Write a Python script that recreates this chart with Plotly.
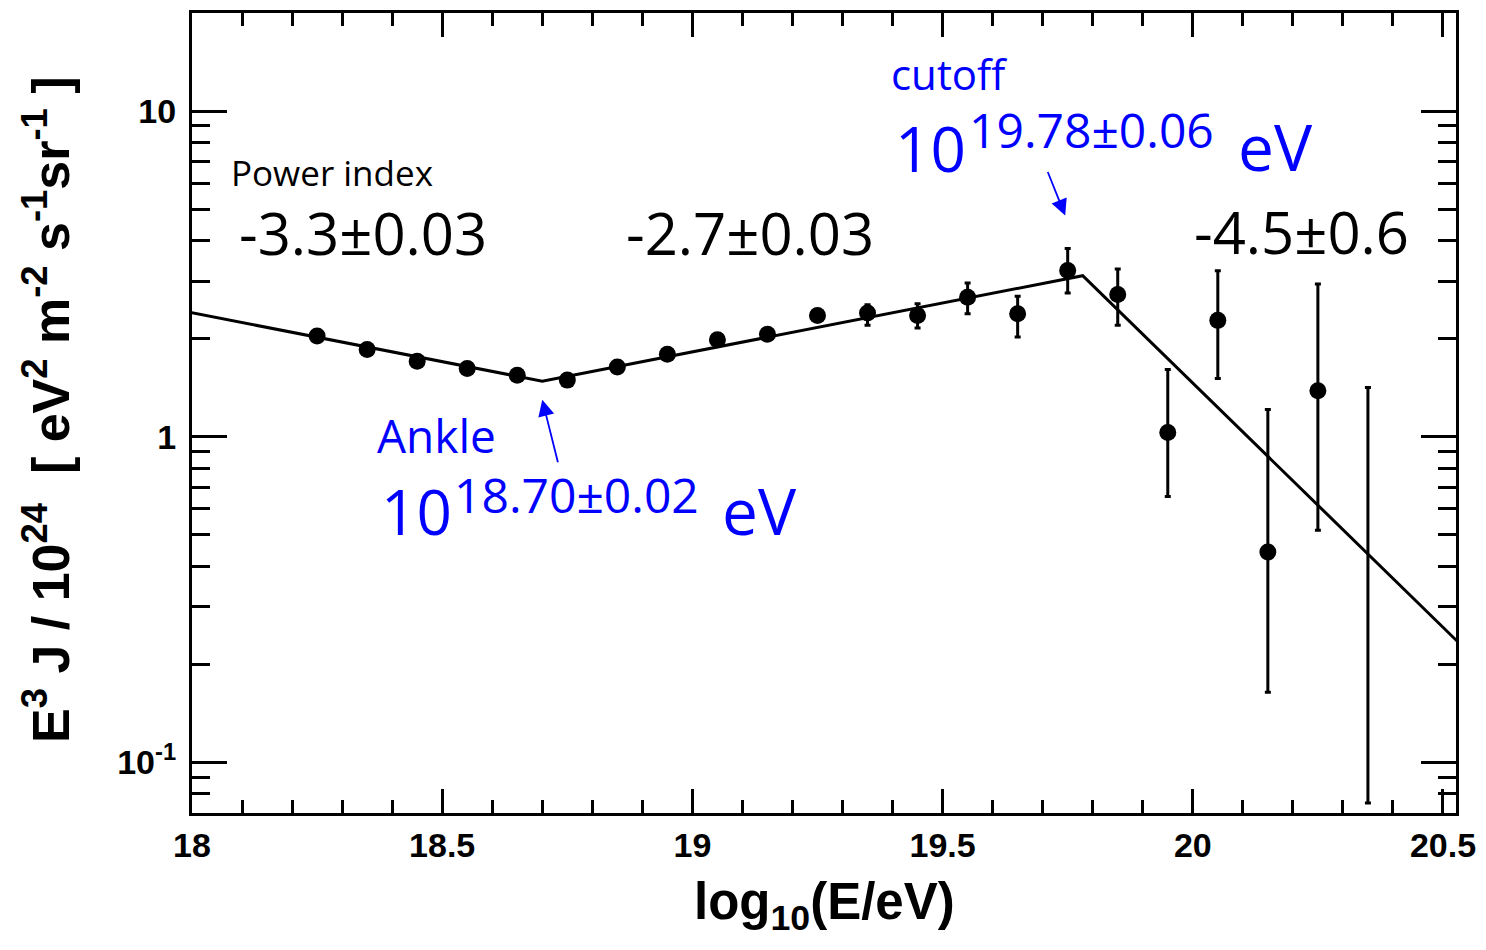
import numpy as np
import plotly.graph_objects as go

# Binned spectrum: bin centres in log10(E/eV), E^3 J / 1e24 values and error bounds
log_e = [18.25, 18.35, 18.45, 18.55, 18.65, 18.75, 18.85, 18.95, 19.05, 19.15, 19.25,
         19.35, 19.45, 19.55, 19.65, 19.75, 19.85, 19.95, 20.05, 20.15, 20.25, 20.35]
flux = [2.036, 1.852, 1.704, 1.618, 1.544, 1.491, 1.637, 1.790, 1.984, 2.061, 2.356,
        2.395, 2.356, 2.680, 2.383, 3.235, 2.730, 1.030, 2.275, 0.442, 1.383, None]
flux_hi = [2.067, 1.880, 1.730, 1.643, 1.567, 1.514, 1.662, 1.817, 2.014, 2.112, 2.450,
           2.540, 2.557, 2.965, 2.700, 3.785, 3.270, 1.606, 3.230, 1.212, 2.943, 1.415]
flux_lo = [2.005, 1.824, 1.678, 1.594, 1.521, 1.469, 1.612, 1.763, 1.954, 2.010, 2.262,
           2.196, 2.154, 2.383, 2.022, 2.762, 2.196, 0.655, 1.507, 0.164, 0.516, 0.075]

# Broken power-law fit: break energies, spectral indices, normalisation at the ankle
ankle_log_e = 18.70
cutoff_log_e = 19.78
gamma = [-3.3, -2.7, -4.5]
j_ankle = 1.48

x_ticks = [18, 18.5, 19, 19.5, 20, 20.5]
x_tick_text = ["18", "18.5", "19", "19.5", "20", "20.5"]
y_ticks = [0.1, 1, 10]
y_tick_text = ["10<sup>-1</sup>", "1", "10"]

# fit curve (E^3 J slope in log-log is 3 + gamma)
fit_x = np.array([17.9, ankle_log_e, cutoff_log_e, 20.7])
log_j_ankle = np.log10(j_ankle)
log_j_cut = log_j_ankle + (3 + gamma[1]) * (cutoff_log_e - ankle_log_e)
fit_logy = np.array([
    log_j_ankle + (3 + gamma[0]) * (fit_x[0] - ankle_log_e),
    log_j_ankle,
    log_j_cut,
    log_j_cut + (3 + gamma[2]) * (fit_x[3] - cutoff_log_e),
])
fit_y = 10 ** fit_logy

W, H = 1486, 950
L, R, T, B = 192, 1460, 10, 813


def px_x(p):
    return (p - L) / (R - L)


def px_y(p):
    return (B - p) / (B - T)


fig = go.Figure()

fig.add_trace(go.Scatter(x=fit_x, y=fit_y, mode="lines",
                         line=dict(color="black", width=3), showlegend=False,
                         hoverinfo="skip"))

pts_x = [x for x, f in zip(log_e, flux) if f is not None]
pts_y = [f for f in flux if f is not None]
pts_hi = [h - f for h, f in zip(flux_hi, flux) if f is not None]
pts_lo = [f - l for l, f in zip(flux_lo, flux) if f is not None]

fig.add_trace(go.Scatter(
    x=pts_x, y=pts_y, mode="markers",
    marker=dict(color="black", size=17),
    error_y=dict(type="data", symmetric=False, array=pts_hi, arrayminus=pts_lo,
                 color="black", thickness=3, width=3),
    showlegend=False))

# bins with an upper/lower range but no plotted central value
bar_x = [x for x, f in zip(log_e, flux) if f is None]
bar_hi = [h for h, f in zip(flux_hi, flux) if f is None]
bar_len = [h - l for h, l, f in zip(flux_hi, flux_lo, flux) if f is None]
fig.add_trace(go.Scatter(
    x=bar_x, y=bar_hi, mode="markers",
    marker=dict(color="rgba(0,0,0,0)", size=1),
    error_y=dict(type="data", symmetric=False, array=[0] * len(bar_x),
                 arrayminus=bar_len, color="black", thickness=3, width=3),
    showlegend=False))

axis_common = dict(showline=True, linewidth=3, linecolor="black", mirror="ticks",
                   ticks="inside", tickwidth=3, tickcolor="black", showgrid=False,
                   zeroline=False,
                   tickfont=dict(family="Liberation Sans", size=34, color="black",
                                 weight="bold"))

fig.update_xaxes(range=[18, 20.526], tickvals=x_ticks, ticktext=x_tick_text,
                 ticklen=24,
                 minor=dict(ticks="inside", ticklen=13, tickwidth=3, tickcolor="black",
                            dtick=0.1, showgrid=False),
                 **axis_common)
fig.update_yaxes(type="log", range=[-1.156, 1.301], tickvals=y_ticks,
                 ticktext=y_tick_text, ticklen=35, ticklabelstandoff=6,
                 minor=dict(ticks="inside", ticklen=18, tickwidth=3, tickcolor="black",
                            dtick="D1", showgrid=False),
                 **axis_common)

BLUE = "#0000FF"
TXT = "Open Sans"
ann = []


def label(text, left, baseline, size, color="black"):
    ann.append(dict(text=text, x=px_x(left), y=px_y(baseline + 0.293 * size),
                    xref="paper", yref="paper", xanchor="left", yanchor="bottom",
                    showarrow=False, borderpad=0,
                    font=dict(family=TXT, size=size, color=color)))


label("Power index", 230, 184, 35)
label("-3.3±0.03", 238, 254, 58)
label("-2.7±0.03", 626, 254, 58)
label("-4.5±0.6", 1196, 253, 58)

label("cutoff", 892, 88, 42, BLUE)
label("10", 896, 170, 62, BLUE)
label("19.78±0.06", 970, 147, 48, BLUE)
label("eV", 1240, 170, 64, BLUE)

label("Ankle", 377, 452, 46, BLUE)
label("10", 381, 535, 62, BLUE)
label("18.70±0.02", 454, 513, 48, BLUE)
label("eV", 723, 535, 64, BLUE)

# arrows pointing at the two spectral breaks
ann.append(dict(x=ankle_log_e, y=0.113, xref="x", yref="y", text="",
                showarrow=True, ax=16, ay=64, arrowhead=2, arrowsize=1.8,
                arrowwidth=1.8, arrowcolor=BLUE, standoff=0))
ann.append(dict(x=19.745, y=0.679, xref="x", yref="y", text="",
                showarrow=True, ax=-18, ay=-45, arrowhead=2, arrowsize=1.8,
                arrowwidth=1.8, arrowcolor=BLUE, standoff=0))

# axis titles
ann.append(dict(text="<b>log<sub>10</sub>(E/eV)</b>", x=px_x(826), y=px_y(940),
                xref="paper", yref="paper", xanchor="center", yanchor="bottom",
                showarrow=False,
                font=dict(family="Liberation Sans", size=51, color="black")))
ann.append(dict(text="<b>E<sup>3</sup> J / 10<sup>24</sup>  [ eV<sup>2</sup> m<sup>-2</sup> "
                     "s<sup>-1</sup>sr<sup>-1</sup> ]</b>",
                x=px_x(46), y=px_y(408), xref="paper", yref="paper",
                xanchor="center", yanchor="middle", textangle=-90, showarrow=False,
                font=dict(family="Liberation Sans", size=52, color="black")))

fig.update_layout(width=W, height=H, margin=dict(l=L, r=W - R, t=T, b=H - B),
                  paper_bgcolor="white", plot_bgcolor="white", annotations=ann,
                  showlegend=False)

fig.write_html("out.html")
